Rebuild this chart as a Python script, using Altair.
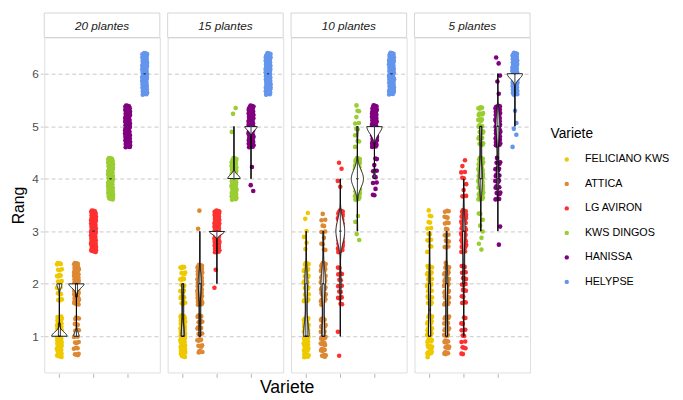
import altair as alt
import pandas as pd

varietes = ["FELICIANO KWS", "ATTICA", "LG AVIRON", "KWS DINGOS", "HANISSA", "HELYPSE"]
couleurs = ["#EEC900", "#DD8833", "#FF3030", "#9ACD32", "#800080", "#6495ED"]
facettes = ["20 plantes", "15 plantes", "10 plantes", "5 plantes"]
rangs = [1, 2, 3, 4, 5, 6]

# number of simulations giving each rank (1..6), per variety
effectifs_20 = [
    [75, 25, 0, 0, 0, 0],
    [25, 75, 0, 0, 0, 0],
    [0, 0, 100, 0, 0, 0],
    [0, 0, 0, 100, 0, 0],
    [0, 0, 0, 0, 100, 0],
    [0, 0, 0, 0, 0, 100],
]
effectifs_15 = [
    [73, 27, 0, 0, 0, 0],
    [27, 71, 2, 0, 0, 0],
    [0, 2, 98, 0, 0, 0],
    [0, 0, 0, 97, 3, 0],
    [0, 0, 0, 3, 97, 0],
    [0, 0, 0, 0, 0, 100],
]
effectifs_10 = [
    [60, 34, 6, 0, 0, 0],
    [38, 50, 12, 0, 0, 0],
    [2, 16, 78, 4, 0, 0],
    [0, 0, 4, 84, 12, 0],
    [0, 0, 0, 12, 88, 0],
    [0, 0, 0, 0, 0, 100],
]
effectifs_5 = [
    [50, 35, 15, 0, 0, 0],
    [35, 45, 20, 0, 0, 0],
    [15, 20, 55, 10, 0, 0],
    [0, 0, 8, 60, 32, 0],
    [0, 0, 2, 30, 63, 5],
    [0, 0, 0, 0, 5, 95],
]
effectifs = {"20 plantes": effectifs_20, "15 plantes": effectifs_15,
             "10 plantes": effectifs_10, "5 plantes": effectifs_5}

rows = []
for fi, f in enumerate(facettes):
    for vi, v in enumerate(varietes):
        for r, c in zip(rangs, effectifs[f][vi]):
            rows += [{"Plantes": f, "fidx": fi, "Variete": v, "vidx": vi + 1, "Rang": r}] * c
df = pd.DataFrame(rows)

W, H = 118, 342
FONT = "Liberation Sans"

xscale = alt.Scale(domain=[0.4, 6.6], nice=False, zero=False)
yscale = alt.Scale(domain=[0.31, 6.69], nice=False, zero=False)
xaxis = alt.Axis(values=rangs, labels=False, title=None, domain=False, grid=False,
                 ticks=True, tickSize=4, tickColor="#b3b3b3")
yaxis = alt.Axis(values=rangs, title="Rang", domain=False, grid=True, gridDash=[4, 3],
                 gridColor="#c8c8c8", ticks=True, tickSize=3, tickColor="#c8c8c8",
                 labelColor="#4d4d4d", labelFontSize=12, labelPadding=2,
                 titleFontSize=16, titleFontWeight="normal", titleColor="black", titlePadding=5)

strip = alt.Chart().transform_aggregate(
    c="count()", groupby=["Plantes"]
).mark_rect(fill="white", stroke="#d4d4d4", strokeWidth=1).encode(
    x=alt.value(0), x2=alt.value(W), y=alt.value(-25), y2=alt.value(0)
)
strip_txt = alt.Chart().transform_aggregate(
    c="count()", groupby=["Plantes"]
).mark_text(fontStyle="italic", fontSize=12, color="#1a1a1a", font=FONT).encode(
    x=alt.value(W / 2), y=alt.value(-12), text="Plantes:N"
)

pts = alt.Chart().transform_window(
    n="row_number()", groupby=["Plantes", "Variete"]
).transform_calculate(
    k="datum.n + datum.vidx * 17 + datum.fidx * 53",
).transform_calculate(
    jx="datum.vidx + ((datum.k * 0.7548776662) % 1 - 0.5) * 0.3",
    jy="datum.Rang + ((datum.k * 0.5698402910) % 1 - 0.5) * 0.8",
).mark_circle(size=22, opacity=1).encode(
    x=alt.X("jx:Q", scale=xscale, axis=xaxis),
    y=alt.Y("jy:Q", scale=yscale, axis=yaxis),
    color=alt.Color("Variete:N", scale=alt.Scale(domain=varietes, range=couleurs),
                    legend=alt.Legend(title="Variete", orient="none", legendX=517, legendY=92,
                                      symbolType="circle", symbolSize=20, symbolStrokeWidth=0,
                                      symbolOffset=11,
                                      labelFontSize=11, titleFontSize=14, titleFontWeight="normal",
                                      rowPadding=13, titlePadding=13, labelOffset=13,
                                      labelFont=FONT, titleFont=FONT, labelColor="black",
                                      titleColor="black")),
)

vio = alt.Chart().transform_joinaggregate(
    mn="min(Rang)", mx="max(Rang)", groupby=["Plantes", "Variete"]
).transform_filter(
    "datum.mn < datum.mx"
).transform_density(
    "Rang", groupby=["Plantes", "Variete", "vidx", "mn", "mx"], extent=[1, 6], steps=501,
    as_=["val", "dens"]
).transform_filter(
    "datum.val >= datum.mn - 1e-6 && datum.val <= datum.mx + 1e-6"
).transform_joinaggregate(
    dmax="max(dens)", groupby=["Plantes"]
).transform_calculate(
    xl="datum.vidx - 0.45 * datum.dens / datum.dmax",
    xr="datum.vidx + 0.45 * datum.dens / datum.dmax",
).mark_area(orient="horizontal", fill="white", stroke="black", strokeWidth=0.9).encode(
    y=alt.Y("val:Q", scale=yscale),
    x=alt.X("xl:Q", scale=xscale),
    x2="xr:Q",
    detail="Variete:N",
)

box = alt.Chart().mark_boxplot(
    extent="min-max", size=2, orient="vertical", ticks=False,
    box={"fill": "transparent", "stroke": "black", "strokeWidth": 0.8},
    median={"color": "black", "strokeWidth": 1},
    rule={"color": "black", "strokeWidth": 0.8},
).encode(
    x=alt.X("vidx:Q", scale=xscale),
    y=alt.Y("Rang:Q", scale=yscale),
)

chart = alt.layer(strip, strip_txt, pts, vio, box, data=df).properties(
    width=W, height=H
).facet(
    column=alt.Column("Plantes:N", sort=facettes,
                      header=alt.Header(labels=False, title="Variete", titleOrient="bottom",
                                        titleFontSize=18, titleFontWeight="normal",
                                        titleFont=FONT, titleColor="black", titlePadding=0,
                                        titleBaseline="middle")),
    spacing=6,
).properties(
    padding={"left": 3, "top": 0, "right": 5, "bottom": 0},
).configure_view(
    stroke="#d4d4d4", strokeWidth=1, fill="white"
).configure(
    font=FONT
)

chart.save("out.html", embed_options={"renderer": "svg", "actions": False})
